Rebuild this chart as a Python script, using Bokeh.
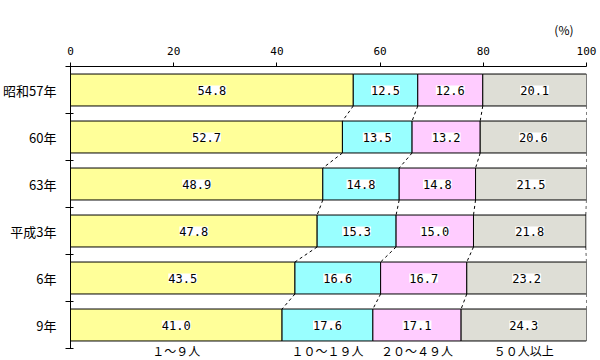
from bokeh.plotting import figure
from bokeh.models import Range1d, FixedTicker, ColumnDataSource
from bokeh.core.properties import value
from bokeh.embed import file_html
from bokeh.resources import INLINE

years = ["昭和57年", "60年", "63年", "平成3年", "6年", "9年"]
series_names = ["１～９人", "１０～１９人", "２０～４９人", "５０人以上"]
s1 = [54.8, 52.7, 48.9, 47.8, 43.5, 41.0]
s2 = [12.5, 13.5, 14.8, 15.3, 16.6, 17.6]
s3 = [12.6, 13.2, 14.8, 15.0, 16.7, 17.1]
s4 = [20.1, 20.6, 21.5, 21.8, 23.2, 24.3]
x_ticks = [0, 20, 40, 60, 80, 100]
colors = ["#FFFF99", "#99FFFF", "#FFCCFF", "#DEDED6"]

FONT = "Noto Sans CJK JP"
MONO = "DejaVu Sans Mono"
BAR_H = 0.68
N = len(years)
ROW_PX = 47
TOP = 66
H = 360
EXTRA = H - TOP - ROW_PX * N  # px below last row for series labels

p = figure(width=600, height=H,
           x_range=Range1d(0, 100), y_range=Range1d(N + EXTRA / ROW_PX, 0),
           x_axis_location="above", y_axis_location="left",
           output_backend="svg", toolbar_location=None,
           min_border_left=69, min_border_right=14, min_border_top=TOP, min_border_bottom=0)
p.outline_line_color = None
p.xgrid.visible = False
p.ygrid.visible = False
p.background_fill_color = "white"

p.title.text = "(%)"
p.title.align = "right"
p.title.offset = 13
p.title.standoff = 12
p.title.text_font = FONT
p.title.text_font_size = "12px"
p.title.text_font_style = "normal"
p.title.text_color = "black"

# top axis
xa = p.xaxis[0]
xa.ticker = FixedTicker(ticks=x_ticks)
xa.major_tick_in = 0
xa.major_tick_out = 4
xa.minor_tick_line_color = None
xa.axis_line_color = "black"
xa.major_tick_line_color = "black"
xa.major_label_text_font = MONO
xa.major_label_text_font_size = "11px"
xa.major_label_text_color = "black"
xa.major_label_standoff = 8

# left axis
rows = [i + 0.5 for i in range(N)]
ya = p.yaxis[0]
ya.bounds = (0, N)
ya.ticker = FixedTicker(ticks=rows, minor_ticks=list(range(N + 1)))
ya.major_label_overrides = {r: y for r, y in zip(rows, years)}
ya.major_tick_in = 0
ya.major_tick_out = 0
ya.minor_tick_in = 3
ya.minor_tick_out = 5
ya.minor_tick_line_color = "black"
ya.axis_line_color = "black"
ya.major_label_text_font = FONT
ya.major_label_text_font_size = "13px"
ya.major_label_text_color = "black"
ya.major_label_standoff = 9

series = [s1, s2, s3, s4]
left = [0.0] * N
cums = []
for k, s in enumerate(series):
    right = [l + v for l, v in zip(left, s)]
    src = ColumnDataSource(dict(y=rows, left=left, right=right,
                                cx=[(l + r) / 2 for l, r in zip(left, right)],
                                lab=[f"{v:.1f}" for v in s]))
    p.hbar(y="y", left="left", right="right", height=BAR_H, source=src,
           fill_color=colors[k], line_color="black", line_width=1)
    p.text(x="cx", y="y", text="lab", source=src, text_align="center",
           text_baseline="middle", text_font=value(MONO), text_font_size="12px",
           text_color="black", background_fill_color="white")
    cums.append(right)
    left = right

# dashed connectors
x0, y0, x1, y1 = [], [], [], []
for k in range(len(series)):
    for i in range(N - 1):
        x0.append(cums[k][i]); y0.append(rows[i] + BAR_H / 2)
        x1.append(cums[k][i + 1]); y1.append(rows[i + 1] - BAR_H / 2)
p.segment(x0=x0, y0=y0, x1=x1, y1=y1, line_color="black", line_width=1, line_dash="3 3")

# series labels under the last bar's segments
last = N - 1
centers = []
prev = 0.0
for k in range(len(series)):
    centers.append((prev + cums[k][last]) / 2)
    prev = cums[k][last]
p.text(x=centers, y=[N + 2.0 / ROW_PX] * len(centers), text=series_names,
       text_align="center", text_baseline="middle", text_font=value(FONT),
       text_font_size="12px", text_color="black")

open("out.html", "w").write(file_html(p, INLINE))
